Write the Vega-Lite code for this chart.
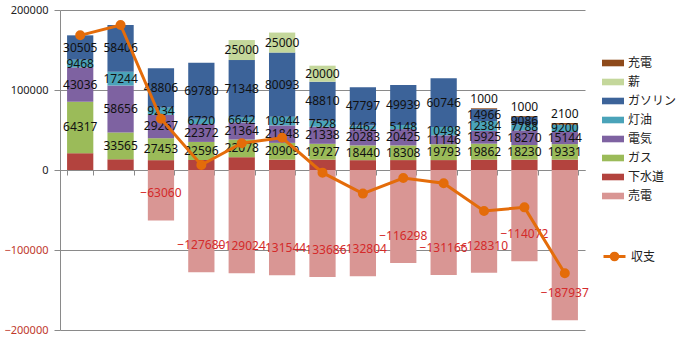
{
  "$schema": "https://vega.github.io/schema/vega-lite/v6.json",
  "width": 525,
  "height": 320,
  "autosize": {"type": "none"},
  "padding": {"left": 60, "top": 10, "right": 91, "bottom": 26},
  "background": "white",
  "config": {"view": {"stroke": null}, "font": "Noto Sans"},
  "datasets": {
    "costs": [
      {"year": "2009", "cat": "下水道", "v": 21000},
      {"year": "2009", "cat": "ガス", "v": 64317},
      {"year": "2009", "cat": "電気", "v": 43036},
      {"year": "2009", "cat": "灯油", "v": 9468},
      {"year": "2009", "cat": "ガソリン", "v": 30505},
      {"year": "2010", "cat": "下水道", "v": 13400},
      {"year": "2010", "cat": "ガス", "v": 33565},
      {"year": "2010", "cat": "電気", "v": 58656},
      {"year": "2010", "cat": "灯油", "v": 17244},
      {"year": "2010", "cat": "ガソリン", "v": 58406},
      {"year": "2011", "cat": "下水道", "v": 12300},
      {"year": "2011", "cat": "ガス", "v": 27453},
      {"year": "2011", "cat": "電気", "v": 29267},
      {"year": "2011", "cat": "灯油", "v": 9234},
      {"year": "2011", "cat": "ガソリン", "v": 48806},
      {"year": "2011", "cat": "売電", "v": -63060},
      {"year": "2012", "cat": "下水道", "v": 12500},
      {"year": "2012", "cat": "ガス", "v": 22596},
      {"year": "2012", "cat": "電気", "v": 22372},
      {"year": "2012", "cat": "灯油", "v": 6720},
      {"year": "2012", "cat": "ガソリン", "v": 69780},
      {"year": "2012", "cat": "売電", "v": -127680},
      {"year": "2013", "cat": "下水道", "v": 16000},
      {"year": "2013", "cat": "ガス", "v": 22078},
      {"year": "2013", "cat": "電気", "v": 21364},
      {"year": "2013", "cat": "灯油", "v": 6642},
      {"year": "2013", "cat": "ガソリン", "v": 71348},
      {"year": "2013", "cat": "薪", "v": 25000},
      {"year": "2013", "cat": "売電", "v": -129024},
      {"year": "2014", "cat": "下水道", "v": 13000},
      {"year": "2014", "cat": "ガス", "v": 20909},
      {"year": "2014", "cat": "電気", "v": 21848},
      {"year": "2014", "cat": "灯油", "v": 10944},
      {"year": "2014", "cat": "ガソリン", "v": 80093},
      {"year": "2014", "cat": "薪", "v": 25000},
      {"year": "2014", "cat": "売電", "v": -131544},
      {"year": "2015", "cat": "下水道", "v": 13000},
      {"year": "2015", "cat": "ガス", "v": 19727},
      {"year": "2015", "cat": "電気", "v": 21338},
      {"year": "2015", "cat": "灯油", "v": 7528},
      {"year": "2015", "cat": "ガソリン", "v": 48810},
      {"year": "2015", "cat": "薪", "v": 20000},
      {"year": "2015", "cat": "売電", "v": -133686},
      {"year": "2016", "cat": "下水道", "v": 12300},
      {"year": "2016", "cat": "ガス", "v": 18440},
      {"year": "2016", "cat": "電気", "v": 20283},
      {"year": "2016", "cat": "灯油", "v": 4462},
      {"year": "2016", "cat": "ガソリン", "v": 47797},
      {"year": "2016", "cat": "売電", "v": -132804},
      {"year": "2017", "cat": "下水道", "v": 12400},
      {"year": "2017", "cat": "ガス", "v": 18308},
      {"year": "2017", "cat": "電気", "v": 20425},
      {"year": "2017", "cat": "灯油", "v": 5148},
      {"year": "2017", "cat": "ガソリン", "v": 49939},
      {"year": "2017", "cat": "売電", "v": -116298},
      {"year": "2018", "cat": "下水道", "v": 12400},
      {"year": "2018", "cat": "ガス", "v": 19793},
      {"year": "2018", "cat": "電気", "v": 11146},
      {"year": "2018", "cat": "灯油", "v": 10498},
      {"year": "2018", "cat": "ガソリン", "v": 60746},
      {"year": "2018", "cat": "売電", "v": -131166},
      {"year": "2019", "cat": "下水道", "v": 13000},
      {"year": "2019", "cat": "ガス", "v": 19862},
      {"year": "2019", "cat": "電気", "v": 15925},
      {"year": "2019", "cat": "灯油", "v": 12384},
      {"year": "2019", "cat": "ガソリン", "v": 14966},
      {"year": "2019", "cat": "充電", "v": 1000},
      {"year": "2019", "cat": "売電", "v": -128310},
      {"year": "2020", "cat": "下水道", "v": 13000},
      {"year": "2020", "cat": "ガス", "v": 18230},
      {"year": "2020", "cat": "電気", "v": 18270},
      {"year": "2020", "cat": "灯油", "v": 7788},
      {"year": "2020", "cat": "ガソリン", "v": 9086},
      {"year": "2020", "cat": "充電", "v": 1000},
      {"year": "2020", "cat": "売電", "v": -114072},
      {"year": "2021", "cat": "下水道", "v": 13000},
      {"year": "2021", "cat": "ガス", "v": 19331},
      {"year": "2021", "cat": "電気", "v": 15144},
      {"year": "2021", "cat": "灯油", "v": 9200},
      {"year": "2021", "cat": "充電", "v": 2100},
      {"year": "2021", "cat": "売電", "v": -187937}
    ],
    "balance": [
      {"year": "2009", "b": 168326},
      {"year": "2010", "b": 181271},
      {"year": "2011", "b": 64000},
      {"year": "2012", "b": 6288},
      {"year": "2013", "b": 33408},
      {"year": "2014", "b": 40250},
      {"year": "2015", "b": -3283},
      {"year": "2016", "b": -29522},
      {"year": "2017", "b": -10078},
      {"year": "2018", "b": -16583},
      {"year": "2019", "b": -51173},
      {"year": "2020", "b": -46698},
      {"year": "2021", "b": -129162}
    ]
  },
  "resolve": {"axis": {"x": "independent"}},
  "layer": [
    {
      "data": {"name": "costs"},
      "transform": [
        {"calculate": "indexof(['売電','充電','薪','ガソリン','灯油','電気','ガス','下水道'], datum.cat)", "as": "rank"},
        {"stack": "v", "groupby": ["year"], "sort": [{"field": "rank", "order": "descending"}], "as": ["y0", "y1"]}
      ],
      "layer": [
        {
          "mark": {"type": "bar"},
          "encoding": {
            "x": {
              "field": "year", "type": "ordinal",
              "scale": {"paddingInner": 0.35, "paddingOuter": 0.175},
              "axis": {"title": null, "labelAngle": 0, "ticks": false, "domain": false, "labelFontSize": 12, "labelColor": "#222", "labelPadding": 7}
            },
            "y": {
              "field": "y1", "type": "quantitative",
              "scale": {"domain": [-200000, 200000], "nice": false},
              "axis": {
                "title": null, "values": [-200000, -150000, -100000, -50000, 0, 50000, 100000, 150000, 200000],
                "format": "d",
                "grid": true, "gridColor": "#8a8a8a", "domainColor": "#8a8a8a", "tickColor": "#8a8a8a",
                "tickSize": 6, "labelPadding": 6, "labelFontSize": 11,
                "labelColor": {"expr": "datum.value < 0 ? '#c0392b' : '#222222'"}
              }
            },
            "y2": {"field": "y0"},
            "color": {
              "field": "cat", "type": "nominal",
              "scale": {
                "domain": ["充電", "薪", "ガソリン", "灯油", "電気", "ガス", "下水道", "売電"],
                "range": ["#8e4a1a", "#c4d79b", "#3c6399", "#4aa3b9", "#7e62a1", "#9bbb59", "#b3433e", "#d99694"]
              },
              "legend": {
                "title": null, "orient": "none", "legendX": 542, "legendY": 42, "padding": 0,
                "values": ["充電", "薪", "ガソリン", "灯油", "電気", "ガス", "下水道", "売電"],
                "symbolType": "M-1,-0.3H1V0.3H-1Z", "symbolSize": 484, "symbolStrokeWidth": 0,
                "rowPadding": 2, "labelFontSize": 12, "labelFont": "Noto Sans CJK JP", "labelColor": "#222", "labelOffset": 4
              }
            }
          }
        },
        {
          "transform": [
            {"filter": "datum.cat != '下水道' && datum.cat != '充電' && datum.cat != '売電'"},
            {"fold": ["y0", "y1"], "as": ["edge", "yy"]},
            {"aggregate": [{"op": "mean", "field": "yy", "as": "mid"}], "groupby": ["year", "cat", "v"]}
          ],
          "mark": {"type": "text", "fontSize": 12, "color": "#111111"},
          "encoding": {
            "x": {"field": "year", "type": "ordinal", "axis": null},
            "y": {"field": "mid", "type": "quantitative"},
            "text": {"field": "v", "type": "quantitative", "format": "d"}
          }
        },
        {
          "transform": [{"filter": "datum.cat == '売電'"}],
          "mark": {"type": "text", "fontSize": 12, "color": "#d42a2a", "dy": -27},
          "encoding": {
            "x": {"field": "year", "type": "ordinal", "axis": null},
            "y": {"field": "y1", "type": "quantitative"},
            "text": {"field": "v", "type": "quantitative", "format": "d"}
          }
        },
        {
          "transform": [{"filter": "datum.cat == '充電'"}],
          "mark": {"type": "text", "fontSize": 12, "baseline": "bottom", "dy": -2, "color": "#111111"},
          "encoding": {
            "x": {"field": "year", "type": "ordinal", "axis": null},
            "y": {"field": "y1", "type": "quantitative"},
            "text": {"field": "v", "type": "quantitative", "format": "d"}
          }
        }
      ]
    },
    {
      "data": {"name": "balance"},
      "mark": {"type": "line", "strokeWidth": 3, "point": {"filled": true, "size": 64, "color": "#e46c0a"}},
      "encoding": {
        "x": {
          "field": "year", "type": "ordinal",
          "axis": {"title": null, "labels": false, "orient": "bottom", "offset": -160, "tickBand": "extent", "tickSize": 5, "tickColor": "#8a8a8a", "domainColor": "#8a8a8a"}
        },
        "y": {"field": "b", "type": "quantitative"},
        "stroke": {
          "datum": "収支", "type": "nominal",
          "scale": {"range": ["#e46c0a"]},
          "legend": {
            "title": null, "orient": "none", "legendX": 542, "legendY": 234, "padding": 0,
            "symbolType": "M-1,0H1M-0.3,0A0.3,0.3 0 1,1 0.3,0A0.3,0.3 0 1,1 -0.3,0", "symbolSize": 484,
            "symbolStrokeWidth": 3, "symbolFillColor": "#e46c0a", "symbolStrokeColor": "#e46c0a",
            "labelFontSize": 12, "labelFont": "Noto Sans CJK JP", "labelColor": "#222", "labelOffset": 4
          }
        }
      }
    }
  ]
}
